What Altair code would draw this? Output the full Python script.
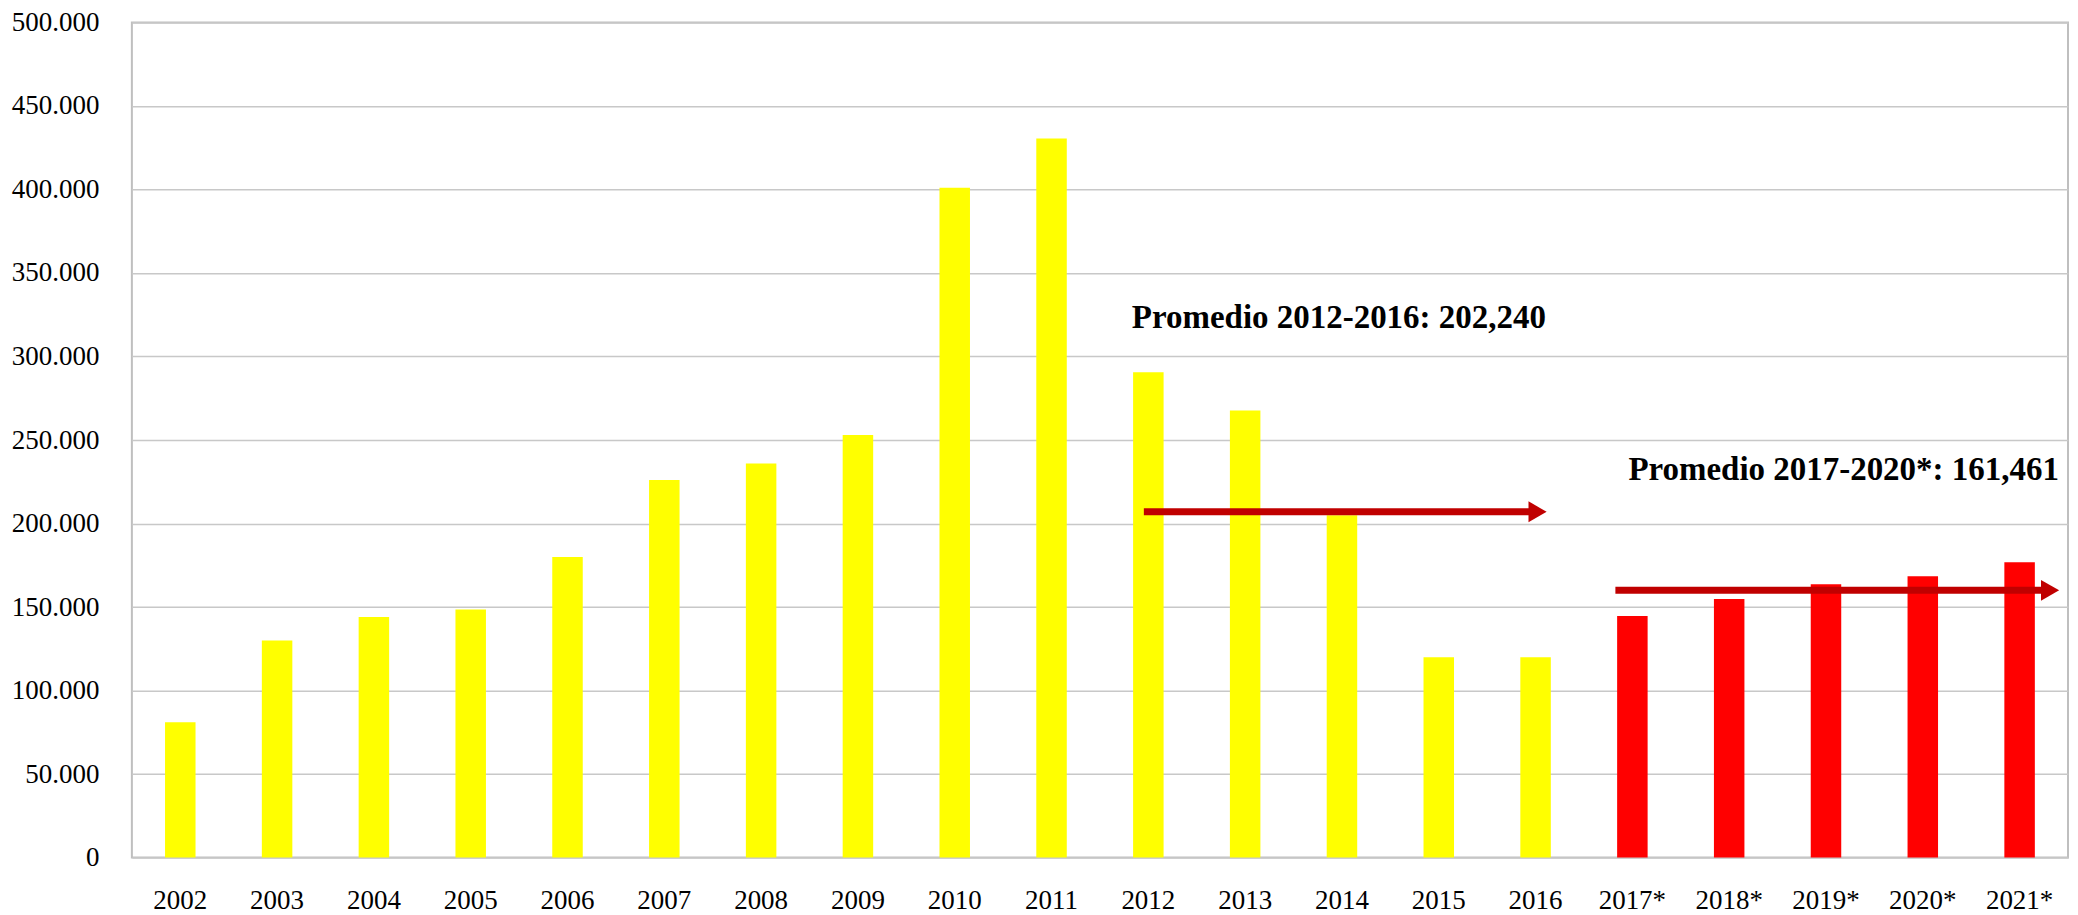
import altair as alt
import pandas as pd

years = ["2002", "2003", "2004", "2005", "2006", "2007", "2008", "2009", "2010", "2011",
         "2012", "2013", "2014", "2015", "2016", "2017*", "2018*", "2019*", "2020*", "2021*"]
values = [81000, 130000, 144000, 148500, 180000, 226000, 236000, 253000, 401000, 430500,
          290500, 267700, 205000, 120000, 120000, 144600, 154800, 163700, 168500, 176800]
kinds = ["Real"] * 15 + ["Proyectado"] * 5

anno_texts = ["Promedio 2012-2016: 202,240", "Promedio 2017-2020*: 161,461"]
anno_years = ["2012", "2017*"]
anno_values = [323000, 232000]

arrow_start = ["2012", "2017*"]
arrow_end = ["2016", "2021*"]
arrow_values = [207000, 160000]

df = pd.DataFrame({"year": years, "value": values, "kind": kinds})

x_scale = alt.Scale(domain=years, paddingInner=0.685, paddingOuter=0.3425)
y_scale = alt.Scale(domain=[0, 500000], nice=False)

bars = alt.Chart(df).mark_bar().encode(
    x=alt.X("year:N", scale=x_scale, sort=years,
            axis=alt.Axis(title=None, labelAngle=0, ticks=False, domain=False, grid=False,
                          labelPadding=30, labelFont="Liberation Serif", labelFontSize=27,
                          labelColor="#000000")),
    y=alt.Y("value:Q", scale=y_scale,
            axis=alt.Axis(title=None, values=list(range(0, 500001, 50000)),
                          labelExpr="replace(format(datum.value, ','), ',', '.')",
                          ticks=False, domain=False, labelPadding=33,
                          labelFont="Liberation Serif", labelFontSize=27, labelColor="#000000",
                          gridColor="#C8C8C8", gridWidth=1.5)),
    color=alt.Color("kind:N", scale=alt.Scale(domain=["Real", "Proyectado"],
                                              range=["#FFFF00", "#FF0000"]), legend=None),
)

layers = [bars]

shaft_offsets = [(-4.5, -5), (-17, 24)]
head_offsets = [2, 30.5]
text_offsets = [-16.5, -4]

for i in range(2):
    adf = pd.DataFrame({"start": [arrow_start[i]], "end": [arrow_end[i]], "value": [arrow_values[i]]})
    shaft = alt.Chart(adf).mark_rule(color="#C00000", strokeWidth=7,
                                     xOffset=shaft_offsets[i][0], x2Offset=shaft_offsets[i][1]).encode(
        x=alt.X("start:N", scale=x_scale), x2="end:N", y="value:Q")
    head = alt.Chart(adf).mark_point(shape="triangle-right", filled=True, color="#C00000",
                                     opacity=1, size=440, xOffset=head_offsets[i]).encode(
        x=alt.X("end:N", scale=x_scale), y="value:Q")
    tdf = pd.DataFrame({"year": [anno_years[i]], "value": [anno_values[i]], "label": [anno_texts[i]]})
    text = alt.Chart(tdf).mark_text(align="left", baseline="middle", font="Liberation Serif",
                                    fontWeight="bold", fontSize=33, color="#000000",
                                    xOffset=text_offsets[i]).encode(
        x=alt.X("year:N", scale=x_scale), y="value:Q", text="label:N")
    layers += [shaft, head, text]

chart = alt.layer(*layers).properties(
    width=1938, height=836,
    autosize="none",
    padding={"left": 124, "top": 14, "right": 2, "bottom": 60},
    background="#FFFFFF",
).configure_view(stroke="#BFBFBF", strokeWidth=2)

chart.save("out.html", embed_options={"renderer": "svg", "actions": False})
